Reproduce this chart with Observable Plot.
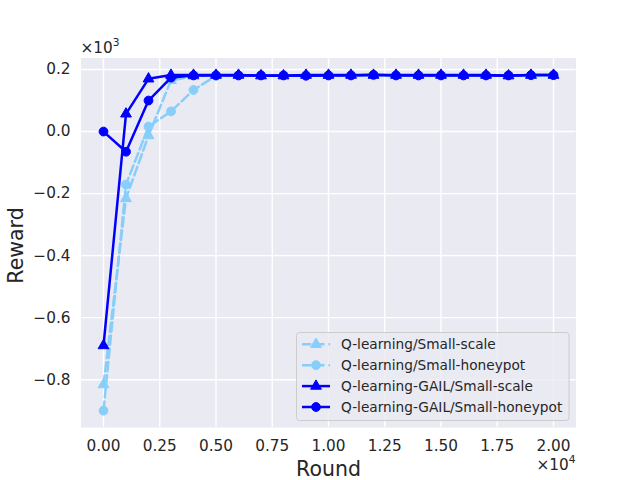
<!DOCTYPE html>
<html><head><meta charset="utf-8">
<script src="https://cdn.jsdelivr.net/npm/d3@7"></script>
<script src="https://cdn.jsdelivr.net/npm/@observablehq/plot@0.6"></script>
<style>body{margin:0;background:#fff} svg{display:block}</style>
</head><body><div id="chart"></div>
<script>
const rounds = [0,1000,2000,3000,4000,5000,6000,7000,8000,9000,10000,11000,12000,13000,14000,15000,16000,17000,18000,19000,20000];
const qScale       = [-816,-216,-13,165,178,181,181,181,181,181,181,181,181,181,181,181,181,181,181,181,181];
const qHoneypot    = [-900,-171,16,65,134,180,181,181,181,181,181,181,181,181,181,181,181,181,181,181,181];
const gailScale    = [-690,57,170,182,182,182,182,180,180,182,182,182,182,182,182,182,182,182,180,182,182];
const gailHoneypot = [0,-65,100,174,181,181,181,181,181,180,181,181,183,181,181,181,181,181,181,182,182];
const seriesNames = ["Q-learning/Small-scale","Q-learning/Small-honeypot","Q-learning-GAIL/Small-scale","Q-learning-GAIL/Small-honeypot"];
const seriesValues = [qScale, qHoneypot, gailScale, gailHoneypot];
const seriesColors = ["#87CEFA","#87CEFA","#0000FF","#0000FF"];
const seriesSymbols = ["triangle","circle","triangle","circle"];
const seriesDashed = [true,true,false,false];
const xTicks = [0,2500,5000,7500,10000,12500,15000,17500,20000];
const yTicks = [-800,-600,-400,-200,0,200];

const lo = d3.min(seriesValues.flat()), hi = d3.max(seriesValues.flat());
const pad = (hi - lo) * 0.05;
const LW = 2.5, DASH = "9.25,4", RC = 4.4, RT = 4.0;

const series = seriesNames.map((name, k) => ({
  name, color: seriesColors[k], symbol: seriesSymbols[k], dashed: seriesDashed[k],
  data: rounds.map((r, i) => ({round: r, reward: seriesValues[k][i]}))
}));

const marks = [
  Plot.frame({fill: "#EAEAF2", stroke: null}),
  Plot.gridX({ticks: xTicks, stroke: "white", strokeOpacity: 1, strokeWidth: 1.4}),
  Plot.gridY({ticks: yTicks, stroke: "white", strokeOpacity: 1, strokeWidth: 1.4}),
  Plot.axisX({ticks: xTicks, tickSize: 0, tickPadding: 12.5, label: null, fontSize: 15.3, fill: "#262626",
    tickFormat: d => (d / 10000).toFixed(2)}),
  Plot.axisY({ticks: yTicks, tickSize: 0, tickPadding: 10.5, label: null, fontSize: 15.3, fill: "#262626",
    tickFormat: d => (d / 1000).toFixed(1).replace("-", "\u2212")}),
  Plot.text(["Round"], {frameAnchor: "bottom", textAnchor: "middle", lineAnchor: "middle", dy: 42.4, fontSize: 20.5, fill: "#262626"}),
  Plot.text(["Reward"], {frameAnchor: "left", textAnchor: "middle", lineAnchor: "middle", dx: -64.4, dy: 2.75, rotate: -90, fontSize: 20.5, fill: "#262626"})
];
for (const s of series) {
  marks.push(Plot.line(s.data, {x: "round", y: "reward", stroke: s.color, strokeWidth: LW,
    strokeDasharray: s.dashed ? DASH : null, curve: "linear"}));
  marks.push(Plot.dot(s.data, {x: "round", y: "reward", symbol: s.symbol, r: s.symbol === "circle" ? RC : RT,
    fill: s.color, stroke: s.color, strokeWidth: 1}));
}

const svg = Plot.plot({
  width: 640, height: 480,
  marginTop: 57.5, marginRight: 64.5, marginBottom: 53, marginLeft: 80.5,
  x: {domain: [-1000, 21000]},
  y: {domain: [lo - pad, hi + pad]},
  style: {fontFamily: "DejaVu Sans", background: "white", color: "#262626", overflow: "visible"},
  marks
});

const g = d3.select(svg);
// offset texts
const t3 = g.append("text").attr("x", 80.5).attr("y", 52.7).attr("font-size", 15.3).attr("fill", "#262626")
  .attr("font-family", "DejaVu Sans").attr("text-anchor", "start");
t3.append("tspan").text("×10");
t3.append("tspan").attr("dy", -7).attr("font-size", 10.7).text("3");
const t4 = g.append("text").attr("x", 575.5).attr("y", 470).attr("font-size", 15.3).attr("fill", "#262626")
  .attr("font-family", "DejaVu Sans").attr("text-anchor", "end");
t4.append("tspan").text("×10");
t4.append("tspan").attr("dy", -7).attr("font-size", 10.7).text("4");

// legend
const lg = g.append("g").attr("font-family", "DejaVu Sans").attr("text-anchor", "start");
lg.append("rect").attr("x", 296.5).attr("y", 332.5).attr("width", 272.5).attr("height", 88)
  .attr("rx", 3).attr("fill", "#EAEAF2").attr("fill-opacity", 0.8).attr("stroke", "#CCCCCC").attr("stroke-width", 1);
series.forEach((s, i) => {
  const y = 344.3 + i * 20.9;
  lg.append("line").attr("x1", 302).attr("x2", 330).attr("y1", y).attr("y2", y)
    .attr("stroke", s.color).attr("stroke-width", LW).attr("stroke-dasharray", s.dashed ? DASH : null);
  const sym = s.symbol === "circle" ? d3.symbolCircle : d3.symbolTriangle;
  const r = s.symbol === "circle" ? RC : RT;
  lg.append("path").attr("d", d3.symbol(sym, r * r * Math.PI)()).attr("transform", `translate(316,${y})`)
    .attr("fill", s.color).attr("stroke", s.color);
  lg.append("text").attr("x", 341).attr("y", y + 5).attr("font-size", 13.7).attr("fill", "#262626")
    .attr("text-anchor", "start").text(s.name);
});

document.getElementById("chart").appendChild(svg);
</script></body></html>
